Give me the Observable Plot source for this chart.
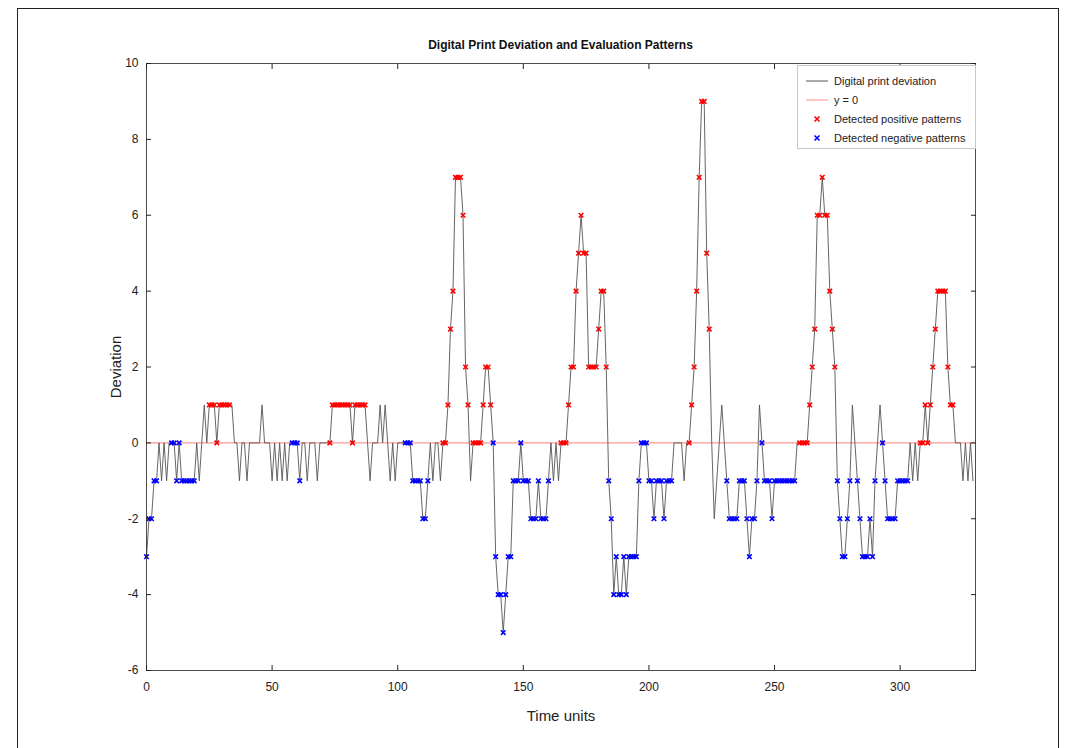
<!DOCTYPE html>
<html><head><meta charset="utf-8">
<script src="https://cdn.jsdelivr.net/npm/d3@7"></script>
<script src="https://cdn.jsdelivr.net/npm/@observablehq/plot@0.6"></script>
<style>
body{margin:0;background:#fff;font-family:"Liberation Sans",Arial,sans-serif;}
#wrap{position:relative;width:1067px;height:748px;overflow:hidden;background:#fff;}
#border{position:absolute;left:17px;top:8px;width:1040px;height:760px;border:1px solid #222;}
#chart{position:absolute;left:0;top:0;}
#title{position:absolute;left:146px;width:829px;top:38px;text-align:center;font-weight:bold;font-size:12px;color:#111;}
#legend{position:absolute;left:797px;top:65px;width:177px;height:82px;border:1px solid #c8c8c8;background:#fff;font-size:11px;color:#222;}
#legend .row{position:absolute;left:6px;height:14px;display:flex;align-items:center;white-space:nowrap;}
#legend svg{margin-right:4px;}
g[aria-label="x-axis label"] text, g[aria-label="y-axis label"] text{font-size:15px;}
</style></head><body>
<div id="wrap"><div id="border"></div><div id="chart"></div>
<div id="title">Digital Print Deviation and Evaluation Patterns</div>
<div id="legend"></div></div>
<script>
const titleText = "Digital Print Deviation and Evaluation Patterns";
const xLabel = "Time units";
const yLabel = "Deviation";
const xTicks = [0, 50, 100, 150, 200, 250, 300];
const yTicks = [-6, -4, -2, 0, 2, 4, 6, 8, 10];
const legendLabels = ["Digital print deviation", "y = 0", "Detected positive patterns", "Detected negative patterns"];

// deviation value at time t = 0,1,2,...
const deviation = [
 -3,-2,-2,-1,-1, 0,-1, 0,-1, 0,   // 0-9
  0, 0,-1, 0,-1,-1,-1,-1,-1,-1,   // 10-19
  0,-1, 0, 1, 0, 1, 1, 1, 0, 1,   // 20-29
  1, 1, 1, 1, 1, 0, 0,-1, 0, 0,   // 30-39
 -1, 0, 0, 0, 0, 0, 1, 0, 0, 0,   // 40-49
 -1, 0,-1, 0,-1, 0,-1, 0, 0, 0,   // 50-59
  0,-1, 0, 0,-1, 0, 0, 0,-1, 0,   // 60-69
  0, 0, 0, 0, 1, 1, 1, 1, 1, 1,   // 70-79
  1, 1, 0, 1, 1, 1, 1, 1, 0,-1,   // 80-89
  0, 0, 0, 1, 0, 1, 0,-1, 0,-1,   // 90-99
  0, 0, 0, 0, 0, 0,-1,-1,-1,-1,   // 100-109
 -2,-2,-1, 0,-1, 0, 0,-1, 0, 0,   // 110-119
  1, 3, 4, 7, 7, 7, 6, 2, 1,-1,   // 120-129
  0, 0, 0, 0, 1, 2, 2, 1, 0,-3,   // 130-139
 -4,-4,-5,-4,-3,-3,-1,-1,-1, 0,   // 140-149
 -1,-1,-1,-2,-2,-2,-1,-2,-2,-2,   // 150-159
 -1, 0,-1, 0,-1, 0, 0, 0, 1, 2,   // 160-169
  2, 4, 5, 6, 5, 5, 2, 2, 2, 2,   // 170-179
  3, 4, 4, 2,-1,-2,-4,-3,-4,-4,   // 180-189
 -3,-4,-3,-3,-3,-3,-1, 0, 0, 0,   // 190-199
 -1,-1,-2,-1,-1,-1,-2,-1,-1,-1,   // 200-209
  0, 0, 0, 0,-1, 0, 0, 1, 2, 4,   // 210-219
  7, 9, 9, 5, 3, 0,-2,-1, 0, 1,   // 220-229
  0,-1,-2,-2,-2,-2,-1,-1,-1,-2,   // 230-239
 -3,-2,-2,-1, 1, 0,-1,-1,-1,-2,   // 240-249
 -1,-1,-1,-1,-1,-1,-1,-1,-1, 0,   // 250-259
  0, 0, 0, 0, 1, 2, 3, 6, 6, 7,   // 260-269
  6, 6, 4, 3, 2,-1,-2,-3,-3,-2,   // 270-279
 -1, 1, 0,-1,-2,-3,-3,-3,-2,-3,   // 280-289
 -1, 0, 1, 0,-1,-2,-2,-2,-2,-1,   // 290-299
 -1,-1,-1,-1, 0,-1, 0,-1, 0, 0,   // 300-309
  1, 0, 1, 2, 3, 4, 4, 4, 4, 2,   // 310-319
  1, 1, 0, 0, 0,-1, 0,-1, 0,-1    // 320-329
];

// index ranges [start, end] of detected patterns
const positiveRanges = [[25, 33], [73, 87], [118, 128], [130, 137], [165, 183], [216, 224], [260, 274], [308, 321]];
const negativeRanges = [[0, 4], [10, 19], [58, 61], [103, 112], [138, 160], [184, 209], [231, 243], [245, 258], [275, 280], [283, 290], [293, 303]];

const series = deviation.map((v, t) => ({t, v}));
const pick = ranges => ranges.flatMap(([a, b]) => series.slice(a, b + 1));
const positive = pick(positiveRanges);
const negative = pick(negativeRanges);
const fmt = d => String(d);
const none = () => "";

const chart = Plot.plot({
  width: 1067,
  height: 748,
  marginLeft: 146,
  marginRight: 92,
  marginTop: 63,
  marginBottom: 78,
  style: {fontFamily: "'Liberation Sans', Arial, sans-serif", fontSize: "12px", color: "#222", background: "transparent"},
  x: {domain: [0, 330]},
  y: {domain: [-6, 10]},
  marks: [
    Plot.ruleY([0], {stroke: "#ff5a5a", strokeWidth: 0.8}),
    Plot.line(series, {x: "t", y: "v", stroke: "#555", strokeWidth: 0.9}),
    Plot.dot(positive, {x: "t", y: "v", symbol: "times", r: 2.2, stroke: "#ff0000", strokeWidth: 1.6}),
    Plot.dot(negative, {x: "t", y: "v", symbol: "times", r: 2.2, stroke: "#0000ff", strokeWidth: 1.6}),
    Plot.frame({stroke: "#222", strokeWidth: 0.8}),
    Plot.axisX({ticks: xTicks, tickSize: -5, tickPadding: 17, tickFormat: fmt, label: xLabel, labelAnchor: "center", labelOffset: 50, labelArrow: "none"}),
    Plot.axisX({anchor: "top", ticks: xTicks, tickSize: -5, tickFormat: none, label: null}),
    Plot.axisY({ticks: yTicks, tickSize: -5, tickPadding: 13, tickFormat: fmt, label: yLabel, labelAnchor: "center", labelOffset: 36, labelArrow: "none"}),
    Plot.axisY({anchor: "right", ticks: yTicks, tickSize: -5, tickFormat: none, label: null})
  ]
});
document.getElementById("chart").appendChild(chart);

// legend
const legend = document.getElementById("legend");
const swatch = [
  '<svg width="26" height="10"><line x1="2" y1="5" x2="24" y2="5" stroke="#555" stroke-width="1"/></svg>',
  '<svg width="26" height="10"><line x1="2" y1="5" x2="24" y2="5" stroke="#ff8a8a" stroke-width="1"/></svg>',
  '<svg width="26" height="10"><path d="M10.5,2.5L15.5,7.5M15.5,2.5L10.5,7.5" stroke="#ff0000" stroke-width="1.6"/></svg>',
  '<svg width="26" height="10"><path d="M10.5,2.5L15.5,7.5M15.5,2.5L10.5,7.5" stroke="#0000ff" stroke-width="1.6"/></svg>'
];
const rowTops = [8, 27, 46, 65];
legendLabels.forEach((lab, i) => {
  const row = document.createElement("div");
  row.className = "row";
  row.style.top = rowTops[i] + "px";
  row.innerHTML = swatch[i] + "<span>" + lab + "</span>";
  legend.appendChild(row);
});
document.getElementById("title").textContent = titleText;
</script>
</body></html>
